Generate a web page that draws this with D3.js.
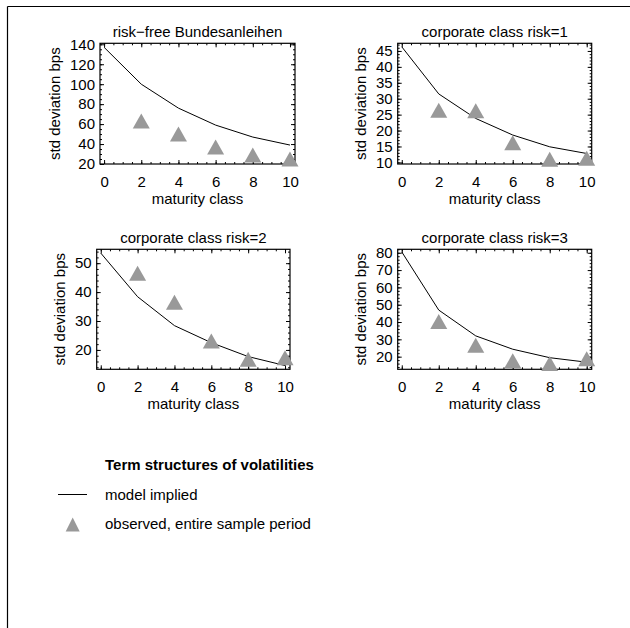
<!DOCTYPE html>
<html>
<head>
<meta charset="utf-8">
<script src="https://cdn.jsdelivr.net/npm/d3@7"></script>
<style>
  body { margin: 0; background: #fff; }
  svg { display: block; font-family: 'Liberation Sans', Arial, Helvetica, sans-serif; }
  .tick line { stroke: #000; }
  .tick text { font-size: 15px; fill: #000; }
</style>
</head>
<body>
<svg id="chart" width="630" height="628"></svg>
<script>
// chart values
const maturities = [0, 2, 4, 6, 8, 10];
const obsMaturities = [2, 4, 6, 8, 10];
const panelTitles = [
  'risk\u2212free Bundesanleihen',
  'corporate class risk=1',
  'corporate class risk=2',
  'corporate class risk=3'
];
const modelRiskFree = [137, 100, 76, 59, 47, 39];
const modelRisk1 = [46.3, 31.5, 23.8, 18.6, 14.9, 12.8];
const modelRisk2 = [53.5, 38.4, 28.4, 22.5, 17.7, 14.6];
const modelRisk3 = [80.5, 46.9, 32, 24.3, 19.4, 16.8];
const obsRiskFree = [63, 50, 37, 29, 25];
const obsRisk1 = [26.4, 26.2, 16.2, 11, 11.3];
const obsRisk2 = [46.5, 36.5, 23.1, 16.8, 17.3];
const obsRisk3 = [40.3, 26.6, 17.6, 16, 18.8];
const xTicks = [0, 2, 4, 6, 8, 10];
const xRange = [-0.22, 10.27];
const yTicks = [
  [20, 40, 60, 80, 100, 120, 140],
  [10, 15, 20, 25, 30, 35, 40, 45],
  [20, 30, 40, 50],
  [20, 30, 40, 50, 60, 70, 80]
];
const yMinorStep = [5, 1, 2, 2];
const yRanges = [[20, 141], [9.5, 47.4], [13.3, 54.8], [12.7, 82]];
const legendTitle = 'Term structures of volatilities';
const legendItems = ['model implied', 'observed, entire sample period'];

const models = [modelRiskFree, modelRisk1, modelRisk2, modelRisk3];
const observed = [obsRiskFree, obsRisk1, obsRisk2, obsRisk3];

// plot boxes
const boxes = [
  { left: 100, top: 43.3, width: 195, height: 120.7 },
  { left: 397.7, top: 43.3, width: 194, height: 120.7 },
  { left: 96.7, top: 249.3, width: 193.3, height: 120 },
  { left: 397.7, top: 249.3, width: 194, height: 120 }
];

const svg = d3.select('#chart');
const markColor = '#999999';

// outer frame: top and left edges only
svg.append('line').attr('x1', 7.5).attr('x2', 630).attr('y1', 6.5).attr('y2', 6.5)
  .attr('stroke', '#000').attr('stroke-width', 1.2);
svg.append('line').attr('x1', 7.5).attr('x2', 7.5).attr('y1', 6.5).attr('y2', 628)
  .attr('stroke', '#000').attr('stroke-width', 1.2);

function triangle(w, h) {
  return `M0,${-h / 2}L${w / 2},${h / 2}L${-w / 2},${h / 2}Z`;
}

function minorValues(range, step) {
  const out = [];
  const start = Math.ceil(range[0] / step) * step;
  for (let v = start; v <= range[1] + 1e-9; v += step) {
    out.push(+v.toFixed(6));
  }
  return out;
}

function drawPanel(i) {
  const b = boxes[i];
  const g = svg.append('g').attr('transform', `translate(${b.left},${b.top})`);
  const x = d3.scaleLinear().domain(xRange).range([0, b.width]);
  const y = d3.scaleLinear().domain(yRanges[i]).range([b.height, 0]);

  // minor ticks on all sides
  const xMinor = minorValues(xRange, 0.5);
  const yMinor = minorValues(yRanges[i], yMinorStep[i]);
  const minor = [
    [d3.axisBottom(x).tickValues(xMinor), `translate(0,${b.height})`],
    [d3.axisTop(x).tickValues(xMinor), null],
    [d3.axisLeft(y).tickValues(yMinor), null],
    [d3.axisRight(y).tickValues(yMinor), `translate(${b.width},0)`]
  ];
  minor.forEach(([ax, tr]) => {
    const a = g.append('g').call(ax.tickSize(-2).tickFormat(''));
    if (tr) a.attr('transform', tr);
    a.select('.domain').remove();
  });

  // major ticks
  g.append('g').attr('transform', `translate(0,${b.height})`)
    .call(d3.axisBottom(x).tickValues(xTicks).tickSize(-4).tickPadding(12));
  const yAxis = g.append('g')
    .call(d3.axisLeft(y).tickValues(yTicks[i]).tickSize(-4).tickPadding(5));
  g.append('g').call(d3.axisTop(x).tickValues(xTicks).tickSize(-4).tickFormat(''));
  g.append('g').attr('transform', `translate(${b.width},0)`)
    .call(d3.axisRight(y).tickValues(yTicks[i]).tickSize(-4).tickFormat(''));
  g.selectAll('.domain').remove();

  g.append('rect').attr('x', 0).attr('y', 0).attr('width', b.width).attr('height', b.height)
    .attr('fill', 'none').attr('stroke', '#000').attr('stroke-width', 1.2);

  // model implied line
  const line = d3.line().x((d, k) => x(maturities[k])).y((d) => y(d));
  g.append('path').datum(models[i]).attr('d', line)
    .attr('fill', 'none').attr('stroke', '#000').attr('stroke-width', 1);

  // observed triangles
  g.selectAll('.obs').data(observed[i]).enter().append('path')
    .attr('class', 'obs')
    .attr('transform', (d, k) => `translate(${x(obsMaturities[k])},${y(d)})`)
    .attr('d', triangle(17, 15))
    .attr('fill', markColor);

  // title and axis labels
  g.append('text').attr('x', b.width / 2).attr('y', -6.5)
    .attr('text-anchor', 'middle').attr('font-size', 15).text(panelTitles[i]);
  g.append('text').attr('x', b.width / 2).attr('y', b.height + 40)
    .attr('text-anchor', 'middle').attr('font-size', 15).text('maturity class');
  const lw = yAxis.node().getBBox().x;
  g.append('text')
    .attr('transform', `translate(${lw - 10},${b.height / 2}) rotate(-90)`)
    .attr('text-anchor', 'middle').attr('font-size', 15).text('std deviation bps');
}

for (let i = 0; i < 4; i++) {
  drawPanel(i);
}

// legend
const lg = svg.append('g');
lg.append('text').attr('x', 105).attr('y', 470).attr('font-size', 15)
  .attr('font-weight', 'bold').text(legendTitle);
lg.append('line').attr('x1', 58).attr('x2', 87).attr('y1', 494.5).attr('y2', 494.5)
  .attr('stroke', '#000').attr('stroke-width', 1);
lg.append('text').attr('x', 105).attr('y', 500).attr('font-size', 15).text(legendItems[0]);
lg.append('path').attr('transform', 'translate(72.7,524.5)').attr('d', triangle(14, 14))
  .attr('fill', markColor);
lg.append('text').attr('x', 105).attr('y', 529).attr('font-size', 15).text(legendItems[1]);
</script>
</body>
</html>
